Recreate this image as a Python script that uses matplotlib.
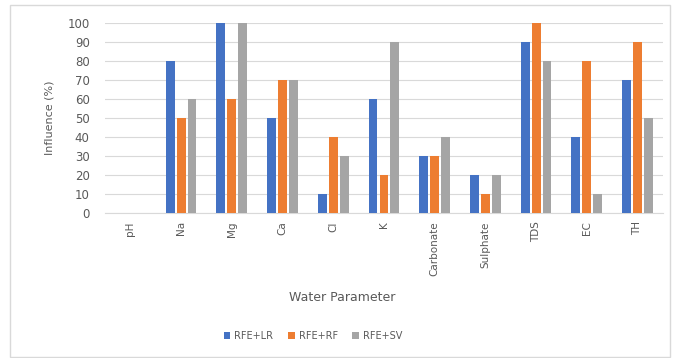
import numpy as np
import matplotlib.pyplot as plt
from matplotlib.patches import Rectangle

# water parameters and the influence (%) found by each feature-selection combo
params = ["pH", "Na", "Mg", "Ca", "Cl", "K", "Carbonate", "Sulphate", "TDS", "EC", "TH"]
rfe_lr = [0, 80, 100, 50, 10, 60, 30, 20, 90, 40, 70]
rfe_rf = [0, 50, 60, 70, 40, 20, 30, 10, 100, 80, 90]
rfe_sv = [0, 60, 100, 70, 30, 90, 40, 20, 80, 10, 50]
series_names = ["RFE+LR", "RFE+RF", "RFE+SV"]
colors = ["#4472C4", "#ED7D31", "#A5A5A5"]
text_col = "#595959"

fig = plt.figure(figsize=(6.73, 3.58), dpi=100)
ax = fig.add_axes([0.156, 0.405, 0.829, 0.531])

# outer chart border
fig.patches.append(Rectangle((0.015, 0.003), 0.98, 0.982, transform=fig.transFigure,
                             fill=False, edgecolor="#D9D9D9", linewidth=1.0))

x = np.arange(len(params))
w = 0.175
step = 0.215
for i, (vals, name) in enumerate(zip([rfe_lr, rfe_rf, rfe_sv], series_names)):
    ax.bar(x + (i - 1) * step, vals, width=w, color=colors[i], label=name, zorder=3)

ax.set_xlim(-0.5, len(params) - 0.5)
ax.set_ylim(0, 100)
ax.set_yticks(range(0, 101, 10))
ax.grid(axis="y", color="#D9D9D9", linewidth=0.8, zorder=0)
ax.set_xticks(x)
ax.set_xticklabels(params, rotation=90, fontsize=7.5, color=text_col)
ax.tick_params(axis="y", labelsize=8.5, colors=text_col, length=0, pad=11)
ax.tick_params(axis="x", length=0, pad=6)
for s in ["top", "right", "left"]:
    ax.spines[s].set_visible(False)
ax.spines["bottom"].set_color("#D9D9D9")

ax.set_ylabel("Influence (%)", fontsize=8, color=text_col, labelpad=9)
fig.text(0.508, 0.17, "Water Parameter", ha="center", va="center", fontsize=9, color=text_col)

fig.legend(loc="center", bbox_to_anchor=(0.465, 0.062), ncol=3, frameon=False,
           fontsize=7, handlelength=0.7, handleheight=0.7, columnspacing=1.5,
           handletextpad=0.4, labelcolor=text_col)

fig.savefig("out.png", dpi=100)
